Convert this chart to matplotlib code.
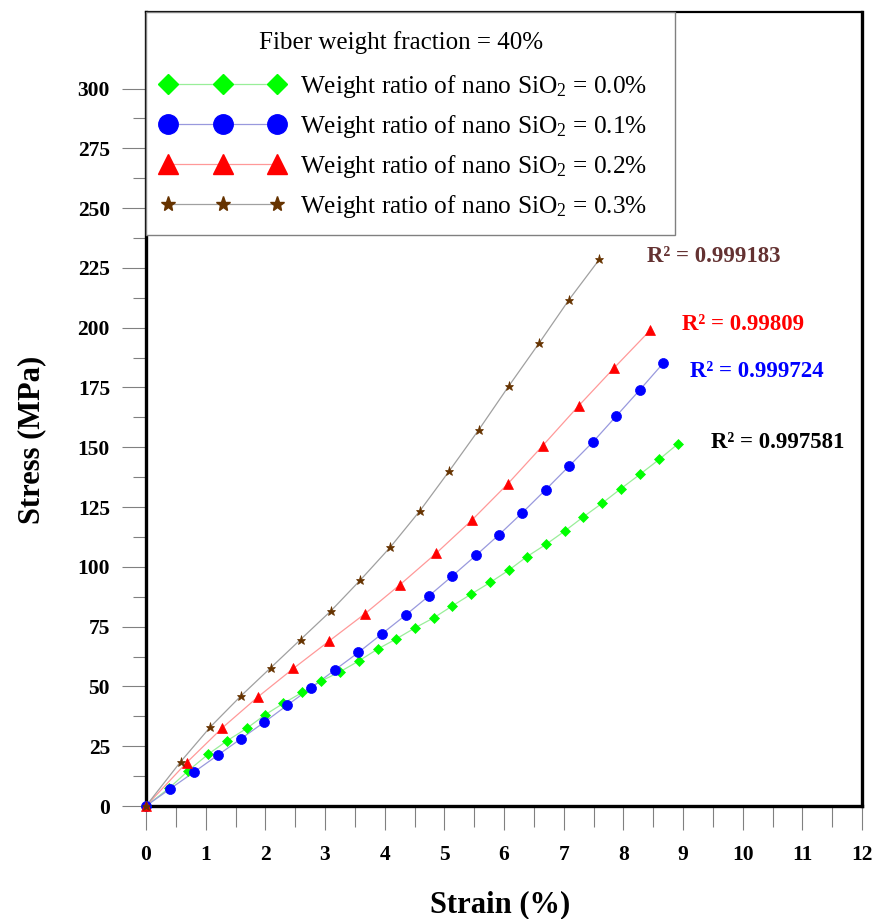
import matplotlib
matplotlib.use("Agg")
import matplotlib.pyplot as plt
from matplotlib.lines import Line2D
from matplotlib.ticker import MultipleLocator, FixedLocator
from matplotlib.offsetbox import VPacker, HPacker, DrawingArea

plt.rcParams['font.family'] = ['Liberation Serif', 'DejaVu Serif']
plt.rcParams['mathtext.fontset'] = 'custom'
plt.rcParams['mathtext.rm'] = 'Liberation Serif'
plt.rcParams['mathtext.it'] = 'Liberation Serif:italic'
plt.rcParams['mathtext.bf'] = 'Liberation Serif:bold'

# ---- data ----
strain_00 = [0, 0.39, 0.71, 1.04, 1.36, 1.69, 2.00, 2.30, 2.62, 2.93, 3.25, 3.57, 3.88, 4.19,
             4.51, 4.83, 5.13, 5.45, 5.77, 6.08, 6.38, 6.71, 7.02, 7.33, 7.65, 7.96, 8.28, 8.60, 8.91]
stress_00 = [0, 7.5, 14.8, 21.6, 27.3, 32.5, 38.2, 42.9, 47.5, 52.2, 56.1, 60.7, 65.6, 69.8,
             74.5, 78.8, 83.6, 88.6, 93.5, 98.6, 104.2, 109.5, 115.0, 120.9, 126.7, 132.7, 138.7, 144.9, 151.3]

strain_01 = [0, 0.40, 0.80, 1.20, 1.59, 1.98, 2.37, 2.76, 3.16, 3.56, 3.95, 4.35, 4.74, 5.13,
             5.53, 5.92, 6.31, 6.70, 7.09, 7.49, 7.88, 8.28, 8.67]
stress_01 = [0, 7.1, 14.1, 21.2, 28.1, 35.0, 42.2, 49.3, 56.8, 64.2, 71.9, 79.8, 87.8, 96.1,
             104.8, 113.5, 122.7, 132.3, 142.1, 152.2, 163.0, 174.1, 185.2]

strain_02 = [0, 0.68, 1.28, 1.88, 2.47, 3.07, 3.67, 4.26, 4.86, 5.46, 6.06, 6.65, 7.25, 7.85, 8.45]
stress_02 = [0, 18.1, 32.7, 45.7, 57.5, 69.0, 80.4, 92.6, 105.6, 119.5, 134.6, 150.7, 167.3, 183.3, 198.9]

strain_03 = [0, 0.58, 1.08, 1.59, 2.09, 2.59, 3.10, 3.59, 4.09, 4.59, 5.08, 5.58, 6.08, 6.59, 7.09, 7.60]
stress_03 = [0, 18.5, 33.1, 46.0, 57.8, 69.6, 81.6, 94.4, 108.1, 123.4, 140.0, 157.4, 175.6, 193.6, 211.7, 228.6]

series_labels = ['Weight ratio of nano SiO$_2$ = 0.0%', 'Weight ratio of nano SiO$_2$ = 0.1%',
                 'Weight ratio of nano SiO$_2$ = 0.2%', 'Weight ratio of nano SiO$_2$ = 0.3%']
r2_texts = ['R² = 0.997581', 'R² = 0.999724', 'R² = 0.99809', 'R² = 0.999183']
r2_pos = [(9.47, 152.1), (9.12, 181.8), (8.98, 201.4), (8.40, 229.8)]
legend_title = 'Fiber weight fraction = 40%'
x_ticks = list(range(0, 13))
y_ticks = list(range(0, 301, 25))
y_minor_ticks = [12.5 + 25 * k for k in range(12)]

# ---- style ----
marker_cols = ['#00FF00', '#0000FF', '#FF0000', '#663300']
line_cols = ['#99EE99', '#9999DD', '#FF9999', '#A0A0A0']
markers = ['D', 'o', '^', '*']
msizes = [4.7, 7.2, 7.3, 6.5]
leg_msizes = [10.0, 14.0, 14.0, 11.0]
r2_cols = ['#000000', '#0000FF', '#FF0000', '#643232']

fig = plt.figure(figsize=(8.76, 9.19), dpi=100)
ax = fig.add_axes([146 / 876, 1 - 806 / 919, (862 - 146) / 876, (806 - 12) / 919])

xs = [strain_00, strain_01, strain_02, strain_03]
ys = [stress_00, stress_01, stress_02, stress_03]
for i in range(4):
    ax.plot(xs[i], ys[i], color=line_cols[i], lw=0.9, zorder=2, clip_on=False)
    ax.plot(xs[i], ys[i], ls='none', marker=markers[i], ms=msizes[i],
            mfc=marker_cols[i], mec=marker_cols[i], mew=0.5, zorder=3, clip_on=False)

for i in range(4):
    ax.text(r2_pos[i][0], r2_pos[i][1], r2_texts[i], color=r2_cols[i], fontsize=16.5,
            fontweight='bold', ha='left', va='center')

ax.set_xlim(0, 12)
ax.set_ylim(0, 332)
ax.set_xticks(x_ticks)
ax.set_yticks(y_ticks)
ax.xaxis.set_minor_locator(MultipleLocator(0.5))
ax.yaxis.set_minor_locator(FixedLocator(y_minor_ticks))
ax.tick_params(axis='both', which='both', direction='out', color='#808080', width=0.8)
ax.tick_params(axis='y', which='major', length=17, pad=9, labelsize=15.5)
ax.tick_params(axis='y', which='minor', length=9.5)
ax.tick_params(axis='x', which='major', length=17, pad=11, labelsize=15.5)
ax.tick_params(axis='x', which='minor', length=15)
for lbl in ax.get_xticklabels() + ax.get_yticklabels():
    lbl.set_fontweight('bold')

for side in ['left', 'right', 'bottom']:
    ax.spines[side].set_linewidth(2.4)
ax.spines['top'].set_linewidth(1.6)

ax.set_xlabel('Strain (%)', fontsize=22, fontweight='bold')
ax.set_ylabel('Stress (MPa)', fontsize=22, fontweight='bold')
ax.xaxis.set_label_coords((500 - 146) / 716, (806 - 905) / 794)
ax.xaxis.label.set_va('center')
ax.yaxis.set_label_coords((32 - 146) / 716, (806 - 440) / 794)
ax.yaxis.label.set_va('center')

handles = [Line2D([], [], color=line_cols[i], lw=0.9, marker=markers[i], ms=leg_msizes[i],
                  mfc=marker_cols[i], mec=marker_cols[i]) for i in range(4)]
leg = ax.legend(handles, series_labels, title=legend_title, loc='upper left',
                bbox_to_anchor=(0, 0, (676 - 147) / 716, 1), mode='expand',
                borderaxespad=0, numpoints=3, fontsize=18.3,
                title_fontsize=18, fancybox=False, framealpha=1, edgecolor='#808080',
                handlelength=4.88, handletextpad=0.61, labelspacing=0.52, borderpad=0.57)
leg.get_frame().set_linewidth(1.0)
leg._legend_box.sep = 13.0
# shift title: a bit of room above it, and slightly left of centre
title_row = HPacker(pad=0, sep=0, align='center',
                    children=[leg._legend_title_box, DrawingArea(13, 1)])
title_wrap = VPacker(pad=0, sep=0, align='center',
                     children=[DrawingArea(1, 3.6), title_row])
leg._legend_box._children[0] = title_wrap

fig.savefig('out.png', dpi=100)
